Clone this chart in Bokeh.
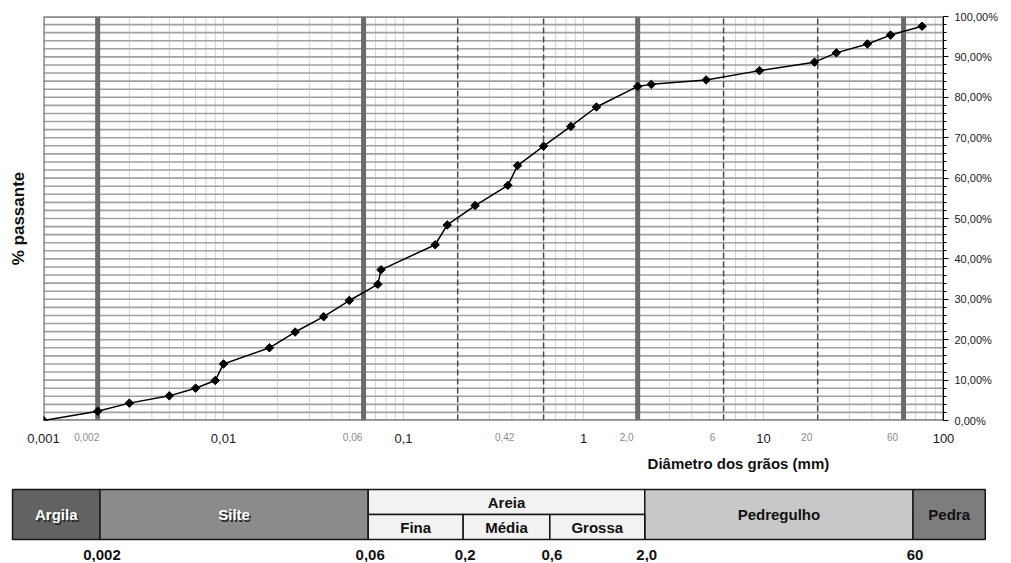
import math
from bokeh.plotting import figure
from bokeh.layouts import column
from bokeh.models import Range1d, LinearAxis, FixedTicker, LogScale
from bokeh.core.properties import value
from bokeh.embed import file_html
from bokeh.resources import INLINE

# ---------------- data ----------------
diam_mm = [0.001, 0.002, 0.003, 0.005, 0.007, 0.009, 0.010, 0.018, 0.025, 0.036,
           0.050, 0.072, 0.075, 0.150, 0.175, 0.25, 0.38, 0.43, 0.60, 0.85,
           1.18, 2.0, 2.38, 4.8, 9.5, 19.2, 25.4, 37.8, 50.8, 76.0]
passing_pct = [0.0, 2.3, 4.3, 6.1, 8.0, 9.9, 14.0, 18.0, 21.9, 25.7,
               29.7, 33.7, 37.3, 43.5, 48.4, 53.2, 58.2, 63.1, 67.9, 72.8,
               77.6, 82.7, 83.2, 84.3, 86.6, 88.7, 91.0, 93.2, 95.4, 97.6]

x_ticks = [0.001, 0.01, 0.1, 1, 10, 100]
x_tick_labels = ["0,001", "0,01", "0,1", "1", "10", "100"]
y_ticks = [0, 10, 20, 30, 40, 50, 60, 70, 80, 90, 100]
y_tick_labels = ["0,00%", "10,00%", "20,00%", "30,00%", "40,00%", "50,00%",
                 "60,00%", "70,00%", "80,00%", "90,00%", "100,00%"]

class_limits = [0.002, 0.06, 2.0, 60]          # thick lines
subclass_limits = [0.2, 0.6, 6, 20]            # dashed lines
ref_values = [0.002, 0.06, 0.42, 2.0, 6, 20, 60]
ref_labels = ["0,002", "0,06", "0,42", "2,0", "6", "20", "60"]

classes = ["Argila", "Silte", "Areia", "Pedregulho", "Pedra"]
class_left = [0.00066, 0.002, 0.06, 2.0, 60]
class_right = [0.002, 0.06, 2.0, 60, 150]
class_colors = ["#626262", "#8b8b8b", "#f2f2f2", "#c8c8c8", "#7d7d7d"]
class_text_colors = ["white", "white", "#111111", "#111111", "#111111"]

sand = ["Fina", "Média", "Grossa"]
sand_left = [0.06, 0.2, 0.6]
sand_right = [0.2, 0.6, 2.0]

bound_values = [0.002, 0.06, 0.2, 0.6, 2.0, 60]
bound_labels = ["0,002", "0,06", "0,2", "0,6", "2,0", "60"]

FONT = "Liberation Sans"

# ---------------- layout constants ----------------
W = 1003
LEFT = 43
TOPB = 16
FRAME_W = 900
PLOT_H = 404
PX_DEC = FRAME_W / 5.0
X_MIN, X_MAX = 0.001, 100
# the classification strip is drawn on its own (slightly different) log scale
T_ORIGIN, T_PX_DEC = 44.8, 181.6

# ---------------- main chart ----------------
H1 = TOPB + PLOT_H + 10
p = figure(width=W, height=H1, x_axis_type="log",
           x_range=Range1d(X_MIN, X_MAX), y_range=Range1d(0, 100),
           y_axis_location="right", x_axis_location=None,
           output_backend="svg", toolbar_location=None, title=None,
           min_border_left=LEFT, min_border_right=W - LEFT - FRAME_W,
           min_border_top=TOPB, min_border_bottom=10)
p.frame_align = False
p.background_fill_color = "white"
p.border_fill_color = "white"
p.outline_line_color = None
p.grid.visible = False

# light vertical grid (1..9 x decades)
minor_grid = [k * 10.0 ** d for d in range(-3, 2) for k in range(1, 10)] + [100]
p.segment(x0=minor_grid, x1=minor_grid, y0=0, y1=100,
          line_color="#d3d3d3", line_width=1)
# horizontal grid every 2 %
hgrid = list(range(0, 101, 2))
p.segment(x0=X_MIN, x1=X_MAX, y0=hgrid, y1=hgrid,
          line_color="#a0a0a0", line_width=1.6)

# class limits
p.segment(x0=class_limits, x1=class_limits, y0=0, y1=100,
          line_color="#6b6b6b", line_width=5)
p.segment(x0=subclass_limits, x1=subclass_limits, y0=0, y1=100,
          line_color="#4a4a4a", line_width=1.5, line_dash="6 3")

# plot border
p.quad(left=X_MIN, right=X_MAX, bottom=0, top=100, fill_color=None,
       line_color="#777777", line_width=2.5)

# curve
p.line(diam_mm, passing_pct, line_color="black", line_width=1.5)
p.scatter(diam_mm, passing_pct, marker="square", angle=math.pi / 4, size=6,
          color="black")

# right axis
ya = p.yaxis[0]
ya.ticker = FixedTicker(ticks=y_ticks, minor_ticks=list(range(0, 101, 2)))
ya.major_label_overrides = {t: l for t, l in zip(y_ticks, y_tick_labels)}
ya.axis_line_color = "black"
ya.axis_line_width = 1
ya.major_tick_in = 0
ya.major_tick_out = 5
ya.minor_tick_in = 0
ya.minor_tick_out = 3
ya.major_tick_line_color = "black"
ya.minor_tick_line_color = "black"
ya.major_label_standoff = 6
ya.major_label_text_font = FONT
ya.major_label_text_font_size = "11px"
ya.major_label_text_color = "#1a1a1a"

# left axis title only
la = LinearAxis(axis_label="% passante", ticker=FixedTicker(ticks=[]))
la.axis_line_color = None
la.major_tick_line_color = None
la.minor_tick_line_color = None
la.major_tick_out = 0
la.major_label_standoff = 0
la.axis_label_standoff = 16
la.axis_label_text_font = FONT
la.axis_label_text_font_style = "bold"
la.axis_label_text_font_size = "17px"
la.axis_label_text_color = "#111111"
p.add_layout(la, "left")

# ---------------- lower panel: x labels, title, classification table ----------------
H2 = 132
x0 = 10 ** (math.log10(X_MIN) - LEFT / PX_DEC)
x1 = 10 ** (math.log10(X_MIN) + (W - LEFT) / PX_DEC)
t0 = 10 ** (math.log10(X_MIN) - T_ORIGIN / T_PX_DEC)
t1 = 10 ** (math.log10(X_MIN) + (W - T_ORIGIN) / T_PX_DEC)
p2 = figure(width=W, height=H2, x_axis_type="log", x_range=Range1d(x0, x1),
            y_range=Range1d(0, H2), x_axis_location=None, y_axis_location=None,
            output_backend="svg", toolbar_location=None, title=None,
            min_border=0)
p2.extra_x_ranges = {"table": Range1d(t0, t1)}
p2.extra_x_scales = {"table": LogScale()}
p2.frame_align = False
p2.grid.visible = False
p2.outline_line_color = None
p2.background_fill_color = "white"
p2.border_fill_color = "white"

# x tick labels
p2.text(x=x_ticks, y=[124] * len(x_ticks), text=x_tick_labels,
        text_align="center", text_baseline="middle", text_font=value(FONT),
        text_font_size="13px", text_color="#1a1a1a")
p2.text(x=ref_values, y=[126] * len(ref_values), text=ref_labels,
        x_offset=-11, text_align="center", text_baseline="middle",
        text_font=value(FONT), text_font_size="10px", text_color="#8a8a8a")

title_x = 10 ** (math.log10(X_MIN) + (740 - LEFT) / PX_DEC)
p2.text(x=[title_x], y=[99], text=["Diâmetro dos grãos  (mm)"],
        text_align="center", text_baseline="middle", text_font=value(FONT),
        text_font_style="bold", text_font_size="15px", text_color="#111111")

TOP, MID, BOT = 73, 48, 23

tops = [TOP] * len(classes)
bots = [MID if c == "Areia" else BOT for c in classes]
p2.quad(left=class_left, right=class_right, top=tops, bottom=bots,
        fill_color=class_colors, line_color="#161616", line_width=1.5,
        x_range_name="table")
p2.quad(left=sand_left, right=sand_right, top=MID, bottom=BOT,
        fill_color="#f2f2f2", line_color="#161616", line_width=1.5,
        x_range_name="table")

cx = [math.sqrt(l * r) for l, r in zip(class_left, class_right)]
cy = [(TOP + MID) / 2 if c == "Areia" else (TOP + BOT) / 2 for c in classes]
shadow_idx = [i for i, c in enumerate(class_text_colors) if c == "white"]
p2.text(x=[cx[i] for i in shadow_idx], y=[cy[i] for i in shadow_idx],
        text=[classes[i] for i in shadow_idx], x_offset=1.5, y_offset=1.5,
        text_align="center", text_baseline="middle", text_font=value(FONT),
        text_font_style="bold", text_font_size="15px", text_color="#2a2a2a",
        x_range_name="table")
p2.text(x=cx, y=cy, text=classes, text_align="center", text_baseline="middle",
        text_font=value(FONT), text_font_style="bold", text_font_size="15px",
        text_color=class_text_colors, x_range_name="table")

sx = [math.sqrt(l * r) for l, r in zip(sand_left, sand_right)]
p2.text(x=sx, y=[(MID + BOT) / 2] * len(sand), text=sand, text_align="center",
        text_baseline="middle", text_font=value(FONT), text_font_style="bold",
        text_font_size="15px", text_color="#111111", x_range_name="table")

p2.text(x=bound_values, y=[8] * len(bound_values), text=bound_labels,
        x_offset=2, text_align="center", text_baseline="middle",
        text_font=value(FONT), text_font_style="bold", text_font_size="15px",
        text_color="#111111", x_range_name="table")

layout = column(p, p2, spacing=0)
open("out.html", "w").write(file_html(layout, INLINE))
